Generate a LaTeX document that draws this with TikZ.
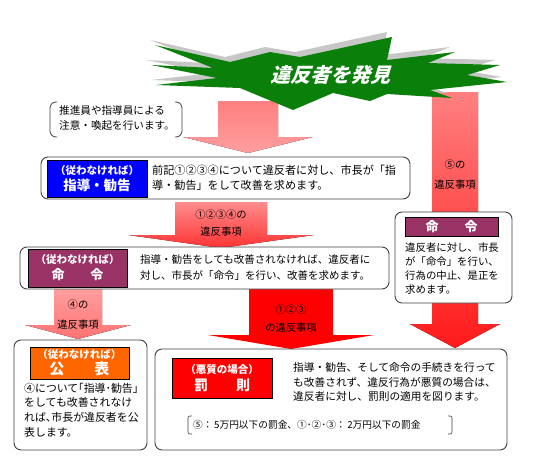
\documentclass[tikz,border=0pt]{standalone}
\usepackage{fontspec}
\setmainfont{Noto Sans CJK JP}
\newfontfamily\titlefont[FakeSlant=0.3]{Noto Sans CJK JP}
\usetikzlibrary{calc}

\definecolor{burstgreen}{HTML}{0A7F0A}
\definecolor{shidoblue}{HTML}{0000FF}
\definecolor{meireiplum}{HTML}{993366}
\definecolor{kohyoorange}{HTML}{FF6600}
\definecolor{bassokured}{HTML}{FF0000}

% fat arrow pointing down: x, shaft half width, head half width, top, head base, tip, style
\newcommand{\fatarrow}[7]{%
  \fill[#7] ({#1-#2},#4) -- ({#1+#2},#4) -- ({#1+#2},#5) -- ({#1+#3},#5)
    -- (#1,#6) -- ({#1-#3},#5) -- ({#1-#2},#5) -- cycle;}

\tikzset{
  outerbox/.style={draw=black!75, line width=0.9pt, rounded corners=7pt, fill=white, inner sep=0pt},
  labelbox/.style={draw=black, line width=0.8pt, text=white, align=center, inner sep=0pt},
  bodytext/.style={font=\fontsize{10.8}{14.5}\selectfont, align=left, anchor=west, inner sep=0pt},
  arrowtext/.style={align=center, inner sep=0pt},
}

\begin{document}
\begin{tikzpicture}[x=1pt,y=-1pt]
  \useasboundingbox (0,0) rectangle (544,471);

  % arrows behind the boxes
  \fatarrow{248}{30}{65}{101}{137}{153}{top color=red!50, bottom color=red!38}
  \fatarrow{455}{23}{45}{92}{324}{348}{top color=red!50, bottom color=red!90}
  \fatarrow{221}{46}{93}{202}{235}{248}{top color=red!45, bottom color=red!80}
  \fatarrow{78}{24}{53}{289}{325}{339}{top color=red!38, bottom color=red!55}
  \fatarrow{291}{42}{83}{289}{335}{349}{fill=bassokured}

  % starburst with its shadow
  \foreach \dx/\dy/\col in {-5/-5/black!22, 0/0/burstgreen} {
    \fill[\col, shift={(\dx,\dy)}] (155,45) -- (230,62) -- (270,52) -- (300,57) -- (392,37)
      -- (387,60) -- (455,52) -- (428,63) -- (500,65) -- (467,75) -- (507,82)
      -- (430,90) -- (452,98) -- (387,94) -- (370,101) -- (333,93) -- (293,110)
      -- (240,88) -- (156,85) -- (217,78) -- (151,65) -- (213,68) -- cycle;
  }
  \node[text=white, font=\titlefont\bfseries\fontsize{20}{24}\selectfont] (found) at (330,75) {違反者を発見};

  % note in brackets
  \draw[line width=0.8pt, black!75, rounded corners=6pt] (57,102) -- (50,102) -- (50,137) -- (57,137);
  \draw[line width=0.8pt, black!75, rounded corners=6pt] (175,102) -- (182,102) -- (182,137) -- (175,137);
  \node[bodytext, font=\fontsize{10.6}{14.5}\selectfont] (note) at (59,118) {推進員や指導員による\\注意・喚起を行います。};

  % guidance
  \node[outerbox, minimum width=369pt, minimum height=42pt] (shidobox) at (225.5,178) {};
  \node[labelbox, fill=shidoblue, minimum width=100pt, minimum height=37pt] (shidolabel) at (97,178.5)
    {\fontsize{10.5}{12}\selectfont\bfseries （従わなければ）\\[3pt]\fontsize{13.5}{14}\selectfont\bfseries 指導・勧告};
  \node[bodytext, font=\fontsize{11.1}{14.5}\selectfont] (shidotext) at (152,178) {前記①②③④について違反者に対し、市長が「指\\導・勧告」をして改善を求めます。};

  % order
  \node[outerbox, minimum width=369pt, minimum height=42pt] (meireibox) at (204.5,268) {};
  \node[labelbox, fill=meireiplum, minimum width=99pt, minimum height=38pt] (meireilabel) at (77.5,268)
    {\fontsize{10.5}{12}\selectfont\bfseries （従わなければ）\\[3pt]\fontsize{13}{14}\selectfont\bfseries 命　　令};
  \node[bodytext, font=\fontsize{10.5}{16}\selectfont] (meireitext) at (140,268) {指導・勧告をしても改善されなければ、違反者に\\対し、市長が「命令」を行い、改善を求めます。};

  % order for 5
  \node[outerbox, minimum width=117pt, minimum height=91pt] (meirei5box) at (453.5,257.5) {};
  \node[labelbox, fill=meireiplum, minimum width=93pt, minimum height=19pt] (meirei5label) at (451.5,226.5)
    {\fontsize{13}{14}\selectfont\bfseries 命　　令};
  \node[bodytext, font=\fontsize{10.4}{14}\selectfont] (meirei5text) at (405,269) {違反者に対し、市長\\が「命令」を行い、\\行為の中止、是正を\\求めます。};

  % publication
  \node[outerbox, minimum width=133pt, minimum height=110pt] (kohyobox) at (80.5,395) {};
  \node[labelbox, fill=kohyoorange, minimum width=99pt, minimum height=32pt] (kohyolabel) at (79.5,363)
    {\fontsize{10.5}{12}\selectfont\bfseries （従わなければ）\\[1pt]\fontsize{15}{15}\selectfont\bfseries 公　　表};
  \node[bodytext, font=\fontsize{10.9}{14.7}\selectfont] (kohyotext) at (24,410) {④について｢指導･勧告｣\\をしても改善されなけ\\れば､市長が違反者を公\\表します。};

  % penalty
  \node[outerbox, minimum width=352pt, minimum height=101pt] (bassokubox) at (331,399.5) {};
  \node[labelbox, fill=bassokured, minimum width=100pt, minimum height=40pt] (bassokulabel) at (222,378)
    {\fontsize{10.5}{12}\selectfont\bfseries （悪質の場合）\\[3pt]\fontsize{14}{14}\selectfont\bfseries 罰　　則};
  \node[bodytext, font=\fontsize{10.7}{14.5}\selectfont] (bassokutext) at (293,382) {指導・勧告、そして命令の手続きを行って\\も改善されず、違反行為が悪質の場合は、\\違反者に対し、罰則の適用を図ります。};
  \draw[line width=0.6pt, black!75, rounded corners=2pt] (192,416) -- (188,416) -- (188,434) -- (192,434);
  \draw[line width=0.6pt, black!75, rounded corners=2pt] (448,416) -- (452,416) -- (452,434) -- (448,434);
  \node[bodytext, font=\fontsize{9.7}{11}\selectfont] (fines) at (193,425) {⑤：\,5万円以下の罰金、①･②･③：\,2万円以下の罰金};

  % labels on the arrows
  \node[arrowtext, font=\fontsize{10.3}{20}\selectfont] (arr5) at (455,175) {⑤の\\違反事項};
  \node[arrowtext, font=\fontsize{10.3}{17}\selectfont] (arr1234) at (221,223.5) {①②③④の\\違反事項};
  \node[arrowtext, font=\fontsize{10.3}{20}\selectfont] (arr4) at (78,315) {④の\\違反事項};
  \node[arrowtext, font=\fontsize{10.3}{18}\selectfont] (arr123) at (291,319) {①②③\\の違反事項};
\end{tikzpicture}
\end{document}
